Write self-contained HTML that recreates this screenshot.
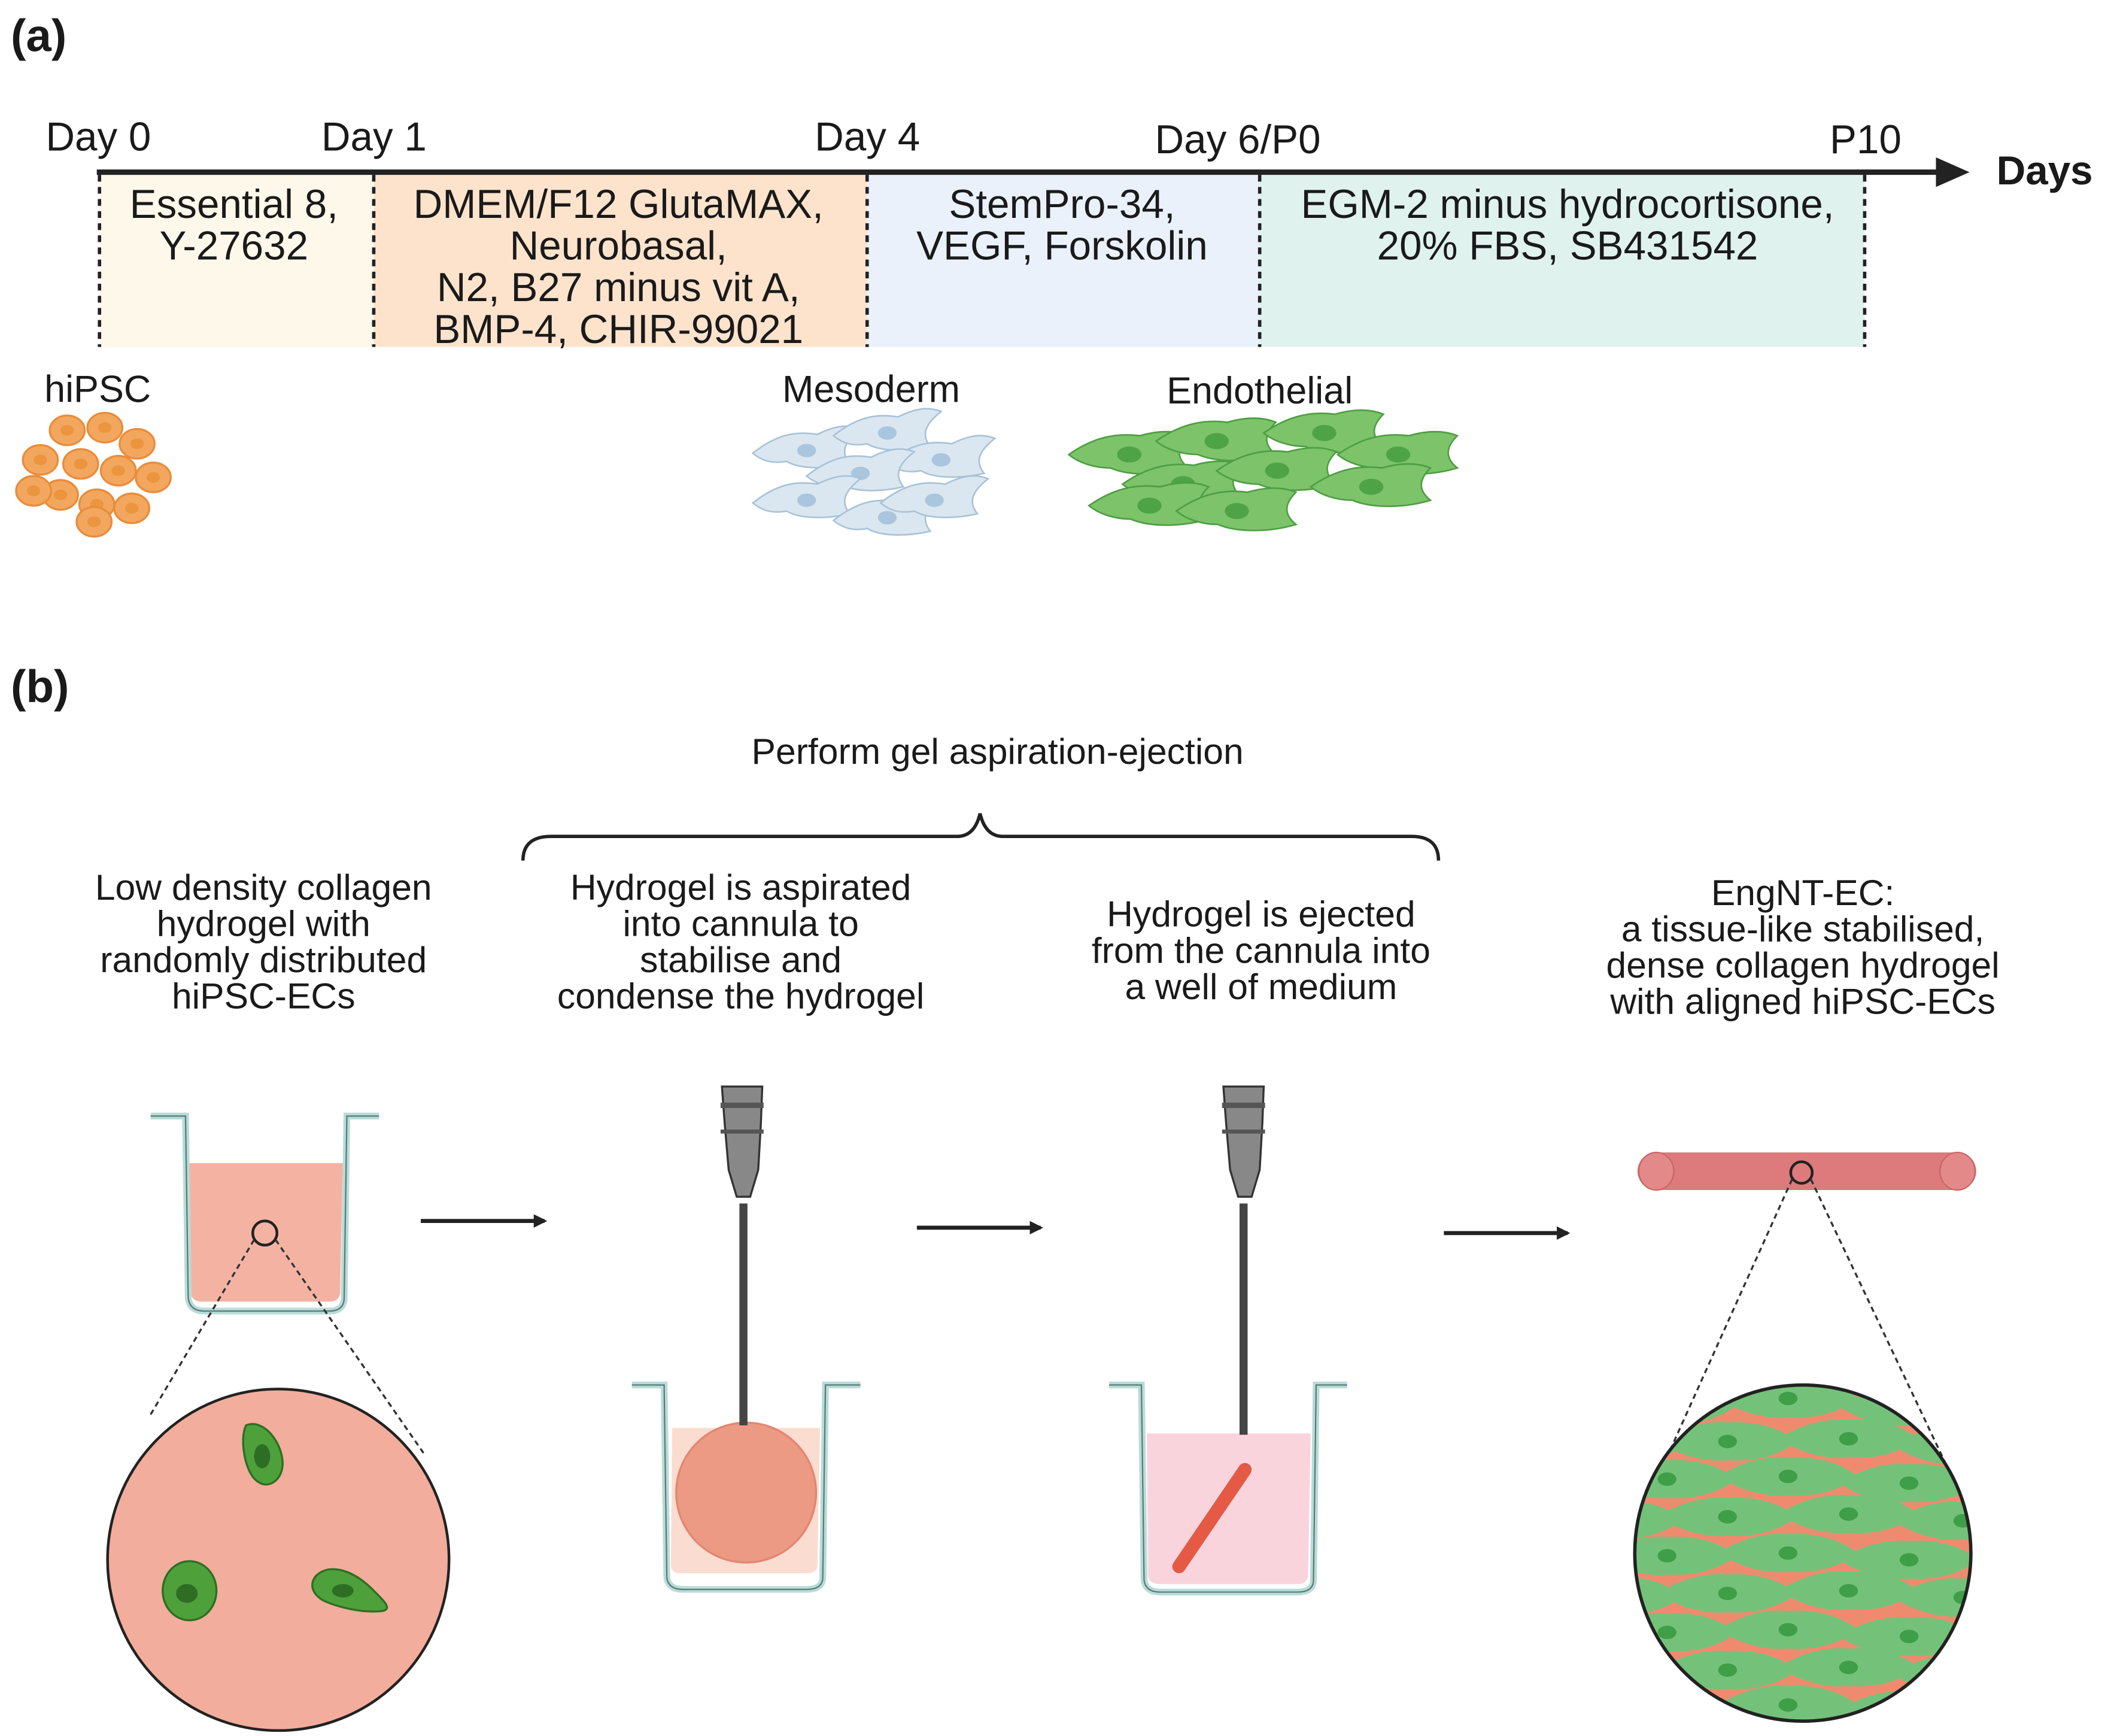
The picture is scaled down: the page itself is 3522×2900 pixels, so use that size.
<!DOCTYPE html>
<html><head><meta charset="utf-8"><style>
html,body{margin:0;padding:0;background:#fff;}
svg{display:block}
text{font-family:"Liberation Sans",Arial,sans-serif;fill:#1a1a1a}
</style></head><body>
<svg width="3522" height="2900" viewBox="0 0 1568 1291" xmlns="http://www.w3.org/2000/svg">
<defs>
<marker id="ah" markerWidth="10" markerHeight="10" refX="8" refY="5" orient="auto" markerUnits="userSpaceOnUse" viewBox="0 0 10 10"><path d="M0,0 L10,5 L0,10 z" fill="#222"/></marker>
<clipPath id="c1"><circle cx="207" cy="1160" r="126"/></clipPath>
<clipPath id="c4"><circle cx="1341" cy="1155" r="124"/></clipPath>
<g id="ocell"><ellipse rx="13" ry="11" fill="#f3a75e" stroke="#e98c3c" stroke-width="1.5"/><ellipse rx="5" ry="4" fill="#eb953f"/></g>
<g id="bcell"><path d="M-40,2 C-20,-14 -5,-14 8,-12 C20,-18 30,-20 40,-16 C30,-8 24,0 32,10 C15,14 -5,14 -15,8 C-25,10 -33,8 -40,2z" fill="#dbe7f0" stroke="#a9c3d8" stroke-width="1.2"/><ellipse cx="0" cy="0" rx="7" ry="5" fill="#a9c6de"/></g>
<g id="gcell"><path d="M-45,0 C-25,-14 -8,-16 8,-14 C22,-18 34,-18 44,-14 C36,-6 34,2 44,10 C24,16 0,16 -14,10 C-26,10 -38,6 -45,0z" fill="#7cc36a" stroke="#4f9e43" stroke-width="1.2"/><ellipse cx="0" cy="0" rx="9" ry="6" fill="#4fa347"/></g>
<g id="scell"><path d="M-52,0 C-30,-14 -10,-15 0,-14 C15,-15 35,-13 52,0 C35,13 15,15 0,14 C-10,15 -30,14 -52,0z" fill="#74c27a"/><ellipse rx="7" ry="5" fill="#3f9e48"/></g>
</defs>

<!-- (a) -->
<text x="8" y="38" font-size="34" font-weight="bold">(a)</text>
<rect x="74" y="130" width="204" height="128" fill="#fdf8ea"/>
<rect x="278" y="130" width="367" height="128" fill="#fde3cc"/>
<rect x="645" y="130" width="291" height="128" fill="#eaf1fb"/>
<rect x="936" y="130" width="451" height="128" fill="#e0f2ee"/>
<g stroke="#222" stroke-width="2.5" stroke-dasharray="5,4">
<line x1="74" y1="130" x2="74" y2="258"/><line x1="278" y1="130" x2="278" y2="258"/>
<line x1="645" y1="130" x2="645" y2="258"/><line x1="937" y1="130" x2="937" y2="258"/>
<line x1="1387" y1="130" x2="1387" y2="258"/></g>
<line x1="72" y1="128" x2="1445" y2="128" stroke="#222" stroke-width="4"/>
<path d="M1440,117 L1465,128 L1440,139z" fill="#222"/>
<text x="1485" y="137" font-size="30" font-weight="bold">Days</text>
<g font-size="30">
<text x="34" y="112">Day 0</text><text x="239" y="112">Day 1</text><text x="606" y="112">Day 4</text>
<text x="859" y="114">Day 6/P0</text><text x="1361" y="114">P10</text>
</g>
<g font-size="30" text-anchor="middle">
<text x="174" y="162">Essential 8,</text><text x="174" y="193">Y-27632</text>
<text x="460" y="162">DMEM/F12 GlutaMAX,</text><text x="460" y="193">Neurobasal,</text>
<text x="460" y="224">N2, B27 minus vit A,</text><text x="460" y="255">BMP-4, CHIR-99021</text>
<text x="790" y="162">StemPro-34,</text><text x="790" y="193">VEGF, Forskolin</text>
<text x="1166" y="162">EGM-2 minus hydrocortisone,</text><text x="1166" y="193">20% FBS, SB431542</text>
</g>
<g font-size="28">
<text x="33" y="299">hiPSC</text>
<text x="648" y="299" text-anchor="middle">Mesoderm</text>
<text x="937" y="300" text-anchor="middle">Endothelial</text>
</g>
<g>
<use href="#ocell" x="50" y="320"/><use href="#ocell" x="78" y="318"/><use href="#ocell" x="102" y="330"/>
<use href="#ocell" x="30" y="342"/><use href="#ocell" x="60" y="345"/><use href="#ocell" x="88" y="350"/>
<use href="#ocell" x="114" y="355"/><use href="#ocell" x="45" y="368"/><use href="#ocell" x="72" y="375"/>
<use href="#ocell" x="98" y="378"/><use href="#ocell" x="25" y="365"/><use href="#ocell" x="70" y="388"/>
</g>
<g>
<use href="#bcell" x="600" y="335"/><use href="#bcell" x="660" y="322"/><use href="#bcell" x="700" y="342"/>
<use href="#bcell" x="640" y="352"/><use href="#bcell" x="600" y="372"/><use href="#bcell" x="660" y="385"/>
<use href="#bcell" x="695" y="372"/>
</g>
<g>
<use href="#gcell" x="840" y="338"/><use href="#gcell" x="905" y="328"/><use href="#gcell" x="985" y="322"/>
<use href="#gcell" x="1040" y="338"/><use href="#gcell" x="880" y="360"/><use href="#gcell" x="950" y="350"/>
<use href="#gcell" x="1020" y="362"/><use href="#gcell" x="855" y="376"/><use href="#gcell" x="920" y="380"/>
</g>

<!-- (b) -->
<text x="8" y="522" font-size="34" font-weight="bold">(b)</text>
<text x="742" y="568" font-size="27" text-anchor="middle">Perform gel aspiration-ejection</text>
<path d="M389,640 Q389,622 410,622 L712,622 Q725,622 729,605 Q733,622 746,622 L1050,622 Q1070,622 1070,640" fill="none" stroke="#222" stroke-width="2.5"/>
<g font-size="27" text-anchor="middle">
<text x="196" y="669">Low density collagen</text><text x="196" y="696">hydrogel with</text>
<text x="196" y="723">randomly distributed</text><text x="196" y="750">hiPSC-ECs</text>
<text x="551" y="669">Hydrogel is aspirated</text><text x="551" y="696">into cannula to</text>
<text x="551" y="723">stabilise and</text><text x="551" y="750">condense the hydrogel</text>
<text x="938" y="689">Hydrogel is ejected</text><text x="938" y="716">from the cannula into</text>
<text x="938" y="743">a well of medium</text>
<text x="1341" y="673">EngNT-EC:</text><text x="1341" y="700">a tissue-like stabilised,</text>
<text x="1341" y="727">dense collagen hydrogel</text><text x="1341" y="754">with aligned hiPSC-ECs</text>
</g>
<g stroke="#222" stroke-width="3">
<line x1="313" y1="908" x2="405" y2="908" marker-end="url(#ah)"/>
<line x1="682" y1="913" x2="774" y2="913" marker-end="url(#ah)"/>
<line x1="1074" y1="917" x2="1166" y2="917" marker-end="url(#ah)"/>
</g>

<!-- well 1 -->
<path d="M140,865 L255,865 L253,962 Q252,968 245,968 L150,968 Q143,968 142,962z" fill="#f4b3a2"/>
<path d="M112,830 L138,830 L140,965 Q141,975 152,975 L245,975 Q256,975 256,965 L258,830 L282,830" fill="none" stroke="#b8dcd8" stroke-width="5"/>
<path d="M112,830 L138,830 L140,965 Q141,975 152,975 L245,975 Q256,975 256,965 L258,830 L282,830" fill="none" stroke="#5a7a78" stroke-width="1"/>
<circle cx="197" cy="917" r="9" fill="none" stroke="#222" stroke-width="2"/>
<g stroke="#333" stroke-width="1.5" stroke-dasharray="4,3"><line x1="189" y1="922" x2="112" y2="1052"/><line x1="205" y1="922" x2="316" y2="1082"/></g>
<circle cx="207" cy="1160" r="127" fill="#f2ad9c" stroke="#222" stroke-width="2"/>
<g clip-path="url(#c1)">
<path d="M183,1060 C195,1055 208,1070 210,1085 C212,1100 200,1108 192,1102 C182,1096 178,1070 183,1060z" fill="#4ea03b" stroke="#2e6e24" stroke-width="1.5"/><ellipse cx="195" cy="1083" rx="6" ry="9" fill="#2e6e24"/>
<ellipse cx="141" cy="1183" rx="20" ry="22" fill="#4ea03b" stroke="#2e6e24" stroke-width="1.5"/><ellipse cx="139" cy="1185" rx="8" ry="7" fill="#2e6e24"/>
<path d="M235,1172 C245,1162 262,1168 275,1180 C285,1190 292,1196 285,1198 C270,1200 250,1195 240,1190 C232,1185 230,1178 235,1172z" fill="#4ea03b" stroke="#2e6e24" stroke-width="1.5"/><ellipse cx="255" cy="1183" rx="8" ry="5" fill="#2e6e24"/>
</g>

<!-- column 2 -->
<path d="M500,1062 L610,1062 L608,1165 Q607,1170 600,1170 L506,1170 Q500,1170 499,1165z" fill="#fadcd0"/>
<circle cx="555" cy="1110" r="52" fill="#ec9a84" stroke="#e38670" stroke-width="1.5"/>
<path d="M470,1030 L494,1030 L496,1173 Q497,1182 508,1182 L600,1182 Q612,1182 612,1173 L614,1030 L640,1030" fill="none" stroke="#b8dcd8" stroke-width="5"/>
<path d="M470,1030 L494,1030 L496,1173 Q497,1182 508,1182 L600,1182 Q612,1182 612,1173 L614,1030 L640,1030" fill="none" stroke="#5a7a78" stroke-width="1"/>
<rect x="550" y="895" width="6" height="165" fill="#444"/>
<path d="M537,808 L567,808 L566,835 L564,870 L558,890 L548,890 L542,870 L539,835z" fill="#888" stroke="#333" stroke-width="1.5"/>
<rect x="536" y="820" width="32" height="4" fill="#555"/><rect x="536" y="840" width="32" height="3" fill="#555"/>

<!-- column 3 -->
<path d="M853,1066 L975,1066 L973,1172 Q972,1178 965,1178 L862,1178 Q855,1178 854,1172z" fill="#fad4dd"/>
<path d="M825,1030 L849,1030 L851,1175 Q852,1184 863,1184 L965,1184 Q977,1184 977,1175 L979,1030 L1002,1030" fill="none" stroke="#b8dcd8" stroke-width="5"/>
<path d="M825,1030 L849,1030 L851,1175 Q852,1184 863,1184 L965,1184 Q977,1184 977,1175 L979,1030 L1002,1030" fill="none" stroke="#5a7a78" stroke-width="1"/>
<line x1="877" y1="1165" x2="926" y2="1093" stroke="#e45a45" stroke-width="10" stroke-linecap="round"/>
<rect x="922" y="895" width="6" height="172" fill="#444"/>
<path d="M910,808 L940,808 L939,835 L937,870 L931,890 L921,890 L915,870 L912,835z" fill="#888" stroke="#333" stroke-width="1.5"/>
<rect x="909" y="820" width="32" height="4" fill="#555"/><rect x="909" y="840" width="32" height="3" fill="#555"/>

<!-- column 4 -->
<rect x="1218" y="857" width="252" height="28" rx="14" fill="#dc7a7c"/>
<ellipse cx="1232" cy="871" rx="13" ry="14" fill="#e4898a" stroke="#c96668"/>
<ellipse cx="1456" cy="871" rx="13" ry="14" fill="#e4898a" stroke="#c96668"/>
<circle cx="1340" cy="872" r="8" fill="none" stroke="#222" stroke-width="2"/>
<g stroke="#333" stroke-width="1.5" stroke-dasharray="4,3"><line x1="1333" y1="877" x2="1238" y2="1088"/><line x1="1347" y1="877" x2="1447" y2="1088"/></g>
<circle cx="1341" cy="1155" r="125" fill="#ee8b6f"/>
<g clip-path="url(#c4)">
<use href="#scell" x="1240" y="1045"/><use href="#scell" x="1330" y="1040"/><use href="#scell" x="1420" y="1046"/>
<use href="#scell" x="1285" y="1072"/><use href="#scell" x="1375" y="1070"/><use href="#scell" x="1460" y="1075"/><use href="#scell" x="1200" y="1075"/>
<use href="#scell" x="1240" y="1100"/><use href="#scell" x="1330" y="1098"/><use href="#scell" x="1420" y="1103"/>
<use href="#scell" x="1285" y="1128"/><use href="#scell" x="1375" y="1126"/><use href="#scell" x="1460" y="1131"/><use href="#scell" x="1200" y="1130"/>
<use href="#scell" x="1240" y="1157"/><use href="#scell" x="1330" y="1155"/><use href="#scell" x="1420" y="1160"/>
<use href="#scell" x="1285" y="1185"/><use href="#scell" x="1375" y="1183"/><use href="#scell" x="1460" y="1188"/><use href="#scell" x="1200" y="1187"/>
<use href="#scell" x="1240" y="1214"/><use href="#scell" x="1330" y="1212"/><use href="#scell" x="1420" y="1217"/>
<use href="#scell" x="1285" y="1242"/><use href="#scell" x="1375" y="1240"/><use href="#scell" x="1460" y="1245"/><use href="#scell" x="1200" y="1244"/>
<use href="#scell" x="1240" y="1270"/><use href="#scell" x="1330" y="1268"/><use href="#scell" x="1420" y="1272"/>
</g>
<circle cx="1341" cy="1155" r="125" fill="none" stroke="#222" stroke-width="2.5"/>
</svg>
</body></html>
